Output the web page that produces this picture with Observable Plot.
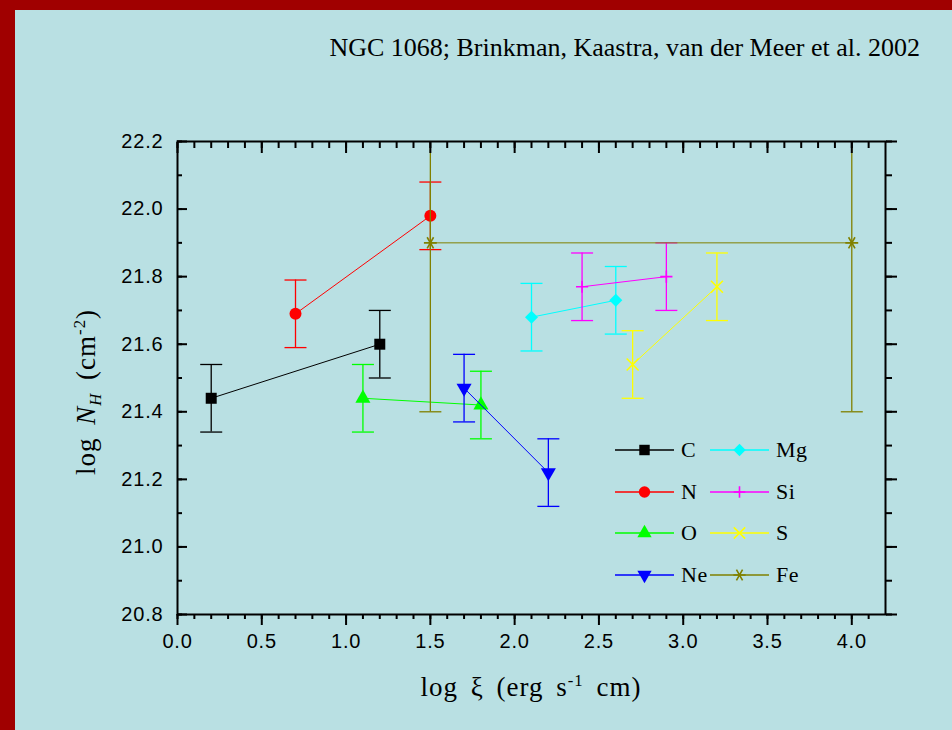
<!DOCTYPE html>
<html>
<head>
<meta charset="utf-8">
<script src="https://cdn.jsdelivr.net/npm/d3@7"></script>
<script src="https://cdn.jsdelivr.net/npm/@observablehq/plot@0.6"></script>
<style>
  html, body { margin: 0; padding: 0; }
  body { width: 952px; height: 730px; background: #a00000; position: relative; overflow: hidden; }
  #panel { position: absolute; left: 15px; top: 10px; right: 0; bottom: 0; background: #b9e0e3; }
  #chart { position: absolute; left: 0; top: 0; }
  #chart text { letter-spacing: 0.8px; }
  .serif { font-family: "Liberation Serif", "Times New Roman", serif; color: #000; position: absolute; white-space: nowrap; line-height: 1; }
  #title { right: 32px; top: 35px; font-size: 26px; }
  #xtitle { left: 531px; top: 674px; font-size: 27px; letter-spacing: 1px; word-spacing: 5px; transform: translateX(-50%); }
  #ytitle { left: 86px; top: 392px; font-size: 27px; letter-spacing: 1px; word-spacing: 5px; transform: translate(-50%, -50%) rotate(-90deg); }
  .legrow { position: absolute; height: 20px; }
  .legrow svg { position: absolute; left: 0; top: 0; overflow: visible; }
  .leglabel { font-size: 22px; letter-spacing: 0.5px; }
  sup, sub { font-size: 62%; line-height: 0; }
</style>
</head>
<body>
<div id="panel"></div>
<div id="chart"></div>
<div id="title" class="serif">NGC 1068; Brinkman, Kaastra, van der Meer et al. 2002</div>
<div id="xtitle" class="serif">log ξ (erg s<sup>-1</sup> cm)</div>
<div id="ytitle" class="serif">log <i>N</i><sub><i>H</i></sub> (cm<sup>-2</sup>)</div>
<div id="legend"></div>
<script>
// ---- data ----
const elements = ["C", "N", "O", "Ne", "Mg", "Si", "S", "Fe"];
const colors = ["#000000", "#ff0000", "#00ff00", "#0000ff", "#00ffff", "#ff00ff", "#ffff00", "#808000"];
const symbols = ["square", "circle", "triangle", "triangle", "square", "plus", "times", "asterisk"];
const symbolRotate = [0, 0, 0, 180, 45, 0, 0, 90];
const symbolR = [6.2, 6, 5.6, 5.6, 5.2, 4, 5.5, 6.1];

const pointElement = ["C", "C", "N", "N", "O", "O", "Ne", "Ne", "Mg", "Mg", "Si", "Si", "S", "S", "Fe", "Fe"];
const pointLogXi   = [0.2, 1.2, 0.7, 1.5, 1.1, 1.8, 1.7, 2.2, 2.1, 2.6, 2.4, 2.9, 2.7, 3.2, 1.5, 4.0];
const pointLogNH   = [21.44, 21.60, 21.69, 21.98, 21.44, 21.42, 21.47, 21.22, 21.68, 21.73, 21.77, 21.80, 21.54, 21.77, 21.90, 21.90];
const pointErrLo   = [21.34, 21.50, 21.59, 21.88, 21.34, 21.32, 21.37, 21.12, 21.58, 21.63, 21.67, 21.70, 21.44, 21.67, 21.40, 21.40];
const pointErrHi   = [21.54, 21.70, 21.79, 22.08, 21.54, 21.52, 21.57, 21.32, 21.78, 21.83, 21.87, 21.90, 21.64, 21.87, 22.40, 22.40];

const xMajorTicks = [0.0, 0.5, 1.0, 1.5, 2.0, 2.5, 3.0, 3.5, 4.0];
const yMajorTicks = [20.8, 21.0, 21.2, 21.4, 21.6, 21.8, 22.0, 22.2];
const xMinorTicks = d3.range(0, 42).map(i => i / 10);
const yMinorTicks = d3.range(208, 223).map(i => i / 10);

// ---- build ----
const points = pointElement.map((e, i) => ({element: e, xi: pointLogXi[i], nh: pointLogNH[i], lo: pointErrLo[i], hi: pointErrHi[i]}));
const capSymbol = {draw(ctx) { ctx.moveTo(-11, 0); ctx.lineTo(11, 0); }};
const filledSymbols = new Set(["square", "circle", "triangle"]);

const marks = [];
elements.forEach((e, k) => {
  const pts = points.filter(p => p.element === e);
  const c = colors[k];
  marks.push(Plot.line(pts, {x: "xi", y: "nh", stroke: c, strokeWidth: 1, clip: true}));
  marks.push(Plot.ruleX(pts, {x: "xi", y1: "lo", y2: "hi", stroke: c, strokeWidth: 1.3, clip: true}));
  marks.push(Plot.dot(pts, {x: "xi", y: "lo", symbol: capSymbol, fill: "none", stroke: c, strokeWidth: 1.3, clip: true}));
  marks.push(Plot.dot(pts, {x: "xi", y: "hi", symbol: capSymbol, fill: "none", stroke: c, strokeWidth: 1.3, clip: true}));
  const filled = filledSymbols.has(symbols[k]);
  marks.push(Plot.dot(pts, {
    x: "xi", y: "nh", symbol: symbols[k], r: symbolR[k], rotate: symbolRotate[k],
    fill: filled ? c : "none", stroke: filled ? "none" : c, strokeWidth: filled ? 0 : 1.6
  }));
});

const blank = () => "";
marks.push(
  Plot.frame({stroke: "#000", strokeWidth: 2}),
  Plot.axisX({anchor: "bottom", ticks: xMajorTicks, tickSize: 11, tickPadding: 8, tickFormat: d3.format(".1f"), fontSize: 20, label: null, strokeWidth: 2}),
  Plot.axisX({anchor: "bottom", ticks: xMinorTicks, tickSize: 5, tickFormat: blank, label: null, strokeWidth: 2}),
  Plot.axisX({anchor: "top", ticks: xMajorTicks, tickSize: -11, tickFormat: blank, label: null, strokeWidth: 2}),
  Plot.axisX({anchor: "top", ticks: xMinorTicks, tickSize: -6, tickFormat: blank, label: null, strokeWidth: 2}),
  Plot.axisY({anchor: "left", ticks: yMajorTicks, tickSize: -10, tickFormat: blank, label: null, strokeWidth: 2}),
  Plot.axisY({anchor: "left", ticks: yMinorTicks, tickSize: -5, tickFormat: blank, label: null, strokeWidth: 2}),
  Plot.axisY({anchor: "left", ticks: yMajorTicks, tickSize: 0, tickPadding: 14, tickFormat: d3.format(".1f"), fontSize: 20, label: null}),
  Plot.axisY({anchor: "right", ticks: yMajorTicks, tickSize: 11, tickFormat: blank, label: null, strokeWidth: 2}),
  Plot.axisY({anchor: "right", ticks: yMinorTicks, tickSize: 6, tickFormat: blank, label: null, strokeWidth: 2})
);

const chart = Plot.plot({
  width: 952, height: 730,
  marginLeft: 177, marginRight: 67, marginTop: 141, marginBottom: 116,
  x: {domain: [0, 4.2]},
  y: {domain: [20.8, 22.2]},
  style: {background: "transparent", overflow: "visible", fontFamily: "'Liberation Sans', Arial, sans-serif", color: "#000"},
  marks
});
document.getElementById("chart").appendChild(chart);

// ---- legend (HTML overlay) ----
const d3sym = {square: d3.symbolSquare, circle: d3.symbolCircle, triangle: d3.symbolTriangle, plus: d3.symbolPlus, times: d3.symbolTimes, asterisk: d3.symbolAsterisk};
const legend = document.getElementById("legend");
const rowY = [450, 492, 533, 575];
elements.forEach((e, k) => {
  const col = k < 4 ? 0 : 1;
  const row = k % 4;
  const x0 = col === 0 ? 615 : 710;
  const row_el = document.createElement("div");
  row_el.className = "legrow";
  row_el.style.left = x0 + "px";
  row_el.style.top = (rowY[row] - 10) + "px";
  const svg = d3.create("svg").attr("width", 60).attr("height", 20);
  svg.append("line").attr("x1", 0).attr("x2", 59).attr("y1", 10).attr("y2", 10).attr("stroke", colors[k]).attr("stroke-width", 1.3);
  const filled = filledSymbols.has(symbols[k]);
  const lr = symbolR[k] * 0.95;
  svg.append("path")
    .attr("d", d3.symbol(d3sym[symbols[k]], Math.PI * lr * lr)())
    .attr("transform", `translate(29.5,10) rotate(${symbolRotate[k]})`)
    .attr("fill", filled ? colors[k] : "none")
    .attr("stroke", filled ? "none" : colors[k])
    .attr("stroke-width", filled ? 0 : 1.6);
  row_el.appendChild(svg.node());
  const lab = document.createElement("div");
  lab.className = "serif leglabel";
  lab.textContent = e;
  lab.style.left = "66px";
  lab.style.top = "-1px";
  row_el.appendChild(lab);
  legend.appendChild(row_el);
});
</script>
</body>
</html>
